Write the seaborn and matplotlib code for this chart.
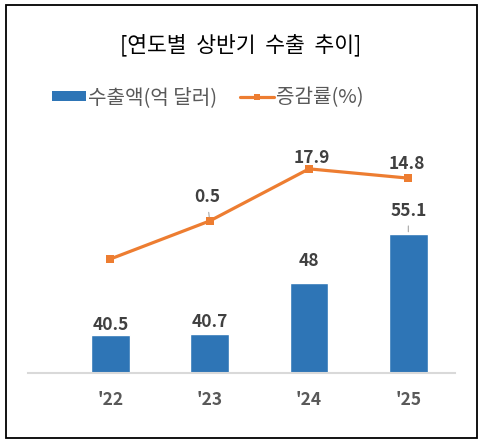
import numpy as np
import pandas as pd
import matplotlib
matplotlib.use('Agg')
import matplotlib.pyplot as plt
import seaborn as sns
from matplotlib.patches import Patch, Rectangle
from matplotlib.lines import Line2D

# 데이터
years = ["'22", "'23", "'24", "'25"]
exports = [40.5, 40.7, 48.0, 55.1]          # 수출액(억 달러)
growth = [-12.2, 0.5, 17.9, 14.8]           # 증감률(%)  '22 값은 그림에서 추정, 라벨 없음
growth_labels = [None, '0.5', '17.9', '14.8']

BLUE = '#2E75B6'
ORANGE = '#ED7D31'
GRAY = '#595959'
DARK = '#404040'

sns.set_style('white')
plt.rcParams['font.family'] = ['Noto Sans CJK KR', 'DejaVu Sans']
plt.rcParams['axes.unicode_minus'] = False

df = pd.DataFrame({'year': years, 'export': exports, 'growth': growth})

fig = plt.figure(figsize=(4.85, 4.46), dpi=100)
ax = fig.add_axes([28 / 485, 1 - 373 / 446, 427 / 485, 223 / 446])

sns.barplot(data=df, x='year', y='export', color=BLUE, width=0.39,
            saturation=1, ax=ax)
ax.set_xlim(-0.83, 3.47)
ax.set_ylim(35, 67.2)

ax2 = ax.twinx()
pos = np.arange(len(years))
sns.lineplot(x=pos, y=df['growth'], ax=ax2, color=ORANGE, lw=2.3,
             marker='s', markersize=6, markeredgewidth=0, sort=False)
ax2.set_ylim(-50.3, 24.2)
ax2.set_xlim(-0.83, 3.47)

for a in (ax, ax2):
    a.set_xlabel('')
    a.set_ylabel('')
    a.set_yticks([])
    for s in ['top', 'right', 'left']:
        a.spines[s].set_visible(False)
ax2.spines['bottom'].set_visible(False)
ax.spines['bottom'].set_color('#D9D9D9')
ax.spines['bottom'].set_linewidth(1.5)
ax.tick_params(axis='x', length=0, pad=13, labelsize=12.5, labelcolor=GRAY)
for t in ax.get_xticklabels():
    t.set_fontweight('bold')

# 막대 라벨 (offset: points)
bar_off = [7, 8, 16, 16.5]
for i, v in enumerate(exports):
    lbl = f'{v:g}'
    kw = {}
    if i == 3:
        kw['arrowprops'] = dict(arrowstyle='-', color='#A6A6A6', lw=0.8,
                                shrinkA=2, shrinkB=1.5)
    ax.annotate(lbl, (i, v), xytext=(0, bar_off[i]), textcoords='offset points',
                ha='center', va='center', fontsize=12.5, fontweight='bold',
                color=DARK, **kw)

line_off = [(0, 0), (-2, 17), (2, 8), (-1, 10)]
for i, lbl in enumerate(growth_labels):
    if lbl is None:
        continue
    kw = {}
    if i == 1:
        kw['arrowprops'] = dict(arrowstyle='-', color='#A6A6A6', lw=0.8,
                                shrinkA=2, shrinkB=3)
    ax2.annotate(lbl, (i, growth[i]), xytext=line_off[i], textcoords='offset points',
                 ha='center', va='center', fontsize=12.5, fontweight='bold',
                 color=DARK, **kw)

# 제목
fig.text(0.497, 1 - 45 / 446, '[연도별  상반기  수출  추이]', ha='center', va='center',
         fontsize=15.5, color='black')

# 범례
handles = [Patch(facecolor=BLUE, edgecolor='none'),
           Line2D([0], [0], color=ORANGE, lw=2.3, marker='s', markersize=5,
                  markeredgewidth=0)]
fig.legend(handles, ['수출액(억 달러)', '증감률(%)'], ncol=2, frameon=False,
           loc='center left', bbox_to_anchor=(52 / 485, 1 - 98 / 446),
           fontsize=14.5, labelcolor=GRAY, handlelength=1.7, handleheight=0.4,
           handletextpad=0.1, columnspacing=1.1, borderpad=0, borderaxespad=0)

# 테두리
fig.patches.append(Rectangle((6 / 485, 1 - 438 / 446), 471 / 485, 433 / 446,
                             transform=fig.transFigure, fill=False,
                             edgecolor='black', lw=1.3))

fig.savefig('out.png', dpi=100)
